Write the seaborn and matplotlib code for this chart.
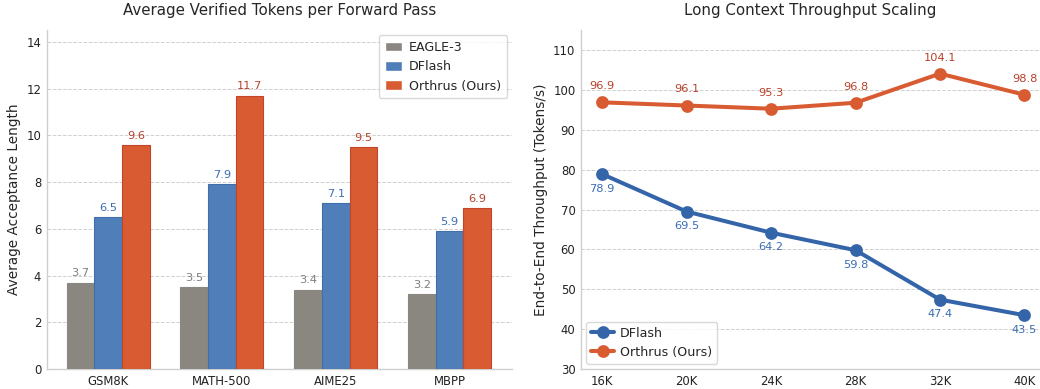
import matplotlib
matplotlib.use("Agg")
import matplotlib.pyplot as plt
import seaborn as sns
import pandas as pd

# Acceptance length per benchmark
benchmarks = ["GSM8K", "MATH-500", "AIME25", "MBPP"]
eagle3 = [3.7, 3.5, 3.4, 3.2]
dflash_acc = [6.5, 7.9, 7.1, 5.9]
orthrus_acc = [9.6, 11.7, 9.5, 6.9]
bar_methods = ["EAGLE-3", "DFlash", "Orthrus (Ours)"]

# Throughput versus context length
contexts = ["16K", "20K", "24K", "28K", "32K", "40K"]
dflash_tp = [78.9, 69.5, 64.2, 59.8, 47.4, 43.5]
orthrus_tp = [96.9, 96.1, 95.3, 96.8, 104.1, 98.8]
line_methods = ["DFlash", "Orthrus (Ours)"]

GRAY = "#8a8780"
BLUE = "#4f7eb9"
RED = "#d95b31"
LINE_BLUE = "#3465a9"
LBL_GRAY = "#7f7f7f"
LBL_BLUE = "#3b6db5"
LBL_RED = "#b8402a"
SPINE = "#cfcfcf"

sns.set_theme(style="white")
plt.rcParams["font.family"] = ["DejaVu Sans"]

fig = plt.figure(figsize=(10.4, 3.89), dpi=100)
ax1 = fig.add_axes([0.0449, 0.0514, 0.4475, 0.871])
ax2 = fig.add_axes([0.5587, 0.0514, 0.441, 0.871])

# ---- left: grouped bars ----
bars_df = pd.DataFrame({
    "benchmark": benchmarks * 3,
    "method": [bar_methods[0]] * 4 + [bar_methods[1]] * 4 + [bar_methods[2]] * 4,
    "value": eagle3 + dflash_acc + orthrus_acc,
})
sns.barplot(data=bars_df, x="benchmark", y="value", hue="method",
            palette=[GRAY, BLUE, RED], hue_order=bar_methods, order=benchmarks,
            width=0.73, saturation=1, errorbar=None, ax=ax1, zorder=3)
edge_cols = [GRAY, "#3f6ea8", "#c0452a"]
lbl_cols = [LBL_GRAY, LBL_BLUE, LBL_RED]
for cont, ec, lc in zip(ax1.containers, edge_cols, lbl_cols):
    for patch in cont:
        patch.set_edgecolor(ec)
        patch.set_linewidth(0.8)
    ax1.bar_label(cont, fmt="%.1f", padding=3, color=lc, fontsize=8.2)

ax1.set_xlim(-0.54, 3.55)
ax1.set_ylim(0, 14.5)
ax1.set_yticks([0, 2, 4, 6, 8, 10, 12, 14])
ax1.set_xlabel("")
ax1.set_ylabel("Average Acceptance Length", fontsize=9.8)
ax1.set_title("Average Verified Tokens per Forward Pass", fontsize=10.8, pad=11)
ax1.yaxis.grid(True, linestyle="--", color="#d0d0d0", linewidth=0.7, zorder=0)
ax1.set_axisbelow(True)
ax1.legend(loc="upper right", fontsize=9.1, frameon=True, edgecolor="#d0d0d0",
           fancybox=True, handlelength=1.35, handleheight=0.8, borderpad=0.45,
           labelspacing=0.5, handletextpad=0.6, borderaxespad=0.4)

# ---- right: throughput lines ----
lines_df = pd.DataFrame({
    "context": contexts * 2,
    "method": [line_methods[0]] * 6 + [line_methods[1]] * 6,
    "value": dflash_tp + orthrus_tp,
})
sns.pointplot(data=lines_df, x="context", y="value", hue="method",
              hue_order=line_methods, order=contexts,
              palette=[LINE_BLUE, RED], markers="o", linewidth=2.9,
              markersize=7, errorbar=None, ax=ax2)
for i, (d, o) in enumerate(zip(dflash_tp, orthrus_tp)):
    ax2.annotate(f"{d:.1f}", (i, d), xytext=(0, -7), textcoords="offset points",
                 ha="center", va="top", color=LBL_BLUE, fontsize=8.2)
    ax2.annotate(f"{o:.1f}", (i, o), xytext=(0, 8), textcoords="offset points",
                 ha="center", va="bottom", color=LBL_RED, fontsize=8.2)

ax2.set_ylim(30, 115)
ax2.set_yticks([30, 40, 50, 60, 70, 80, 90, 100, 110])
ax2.set_xlim(-0.25, 5.18)
ax2.set_xlabel("")
ax2.set_ylabel("End-to-End Throughput (Tokens/s)", fontsize=9.8)
ax2.set_title("Long Context Throughput Scaling", fontsize=10.8, pad=11)
ax2.yaxis.grid(True, linestyle="--", color="#d0d0d0", linewidth=0.7, zorder=0)
ax2.set_axisbelow(True)
ax2.legend(loc="lower left", fontsize=9.1, frameon=True, edgecolor="#d0d0d0",
           fancybox=True, handlelength=1.8, borderpad=0.4, labelspacing=0.5,
           handletextpad=0.5, borderaxespad=0.4)

for ax in (ax1, ax2):
    for side in ("top", "right"):
        ax.spines[side].set_visible(False)
    for side in ("left", "bottom"):
        ax.spines[side].set_color(SPINE)
        ax.spines[side].set_linewidth(1.0)
    ax.tick_params(axis="both", labelsize=8.4, colors="#222222", length=0, pad=4)

fig.savefig("out.png", dpi=100)
